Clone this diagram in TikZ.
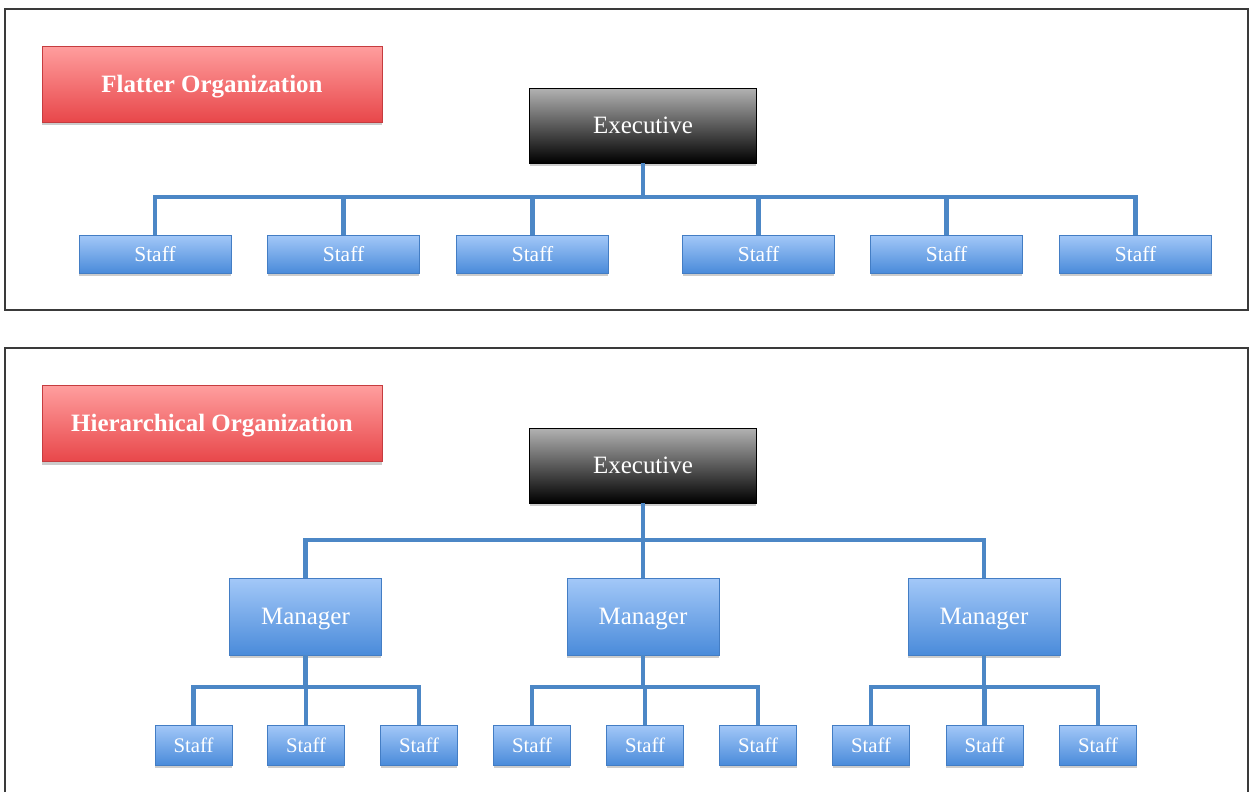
\documentclass[tikz,border=0pt]{standalone}
\usepackage{fontspec}
\setmainfont{Liberation Serif}
\usepackage{tikz}
\usetikzlibrary{shadows}
\definecolor{framegray}{HTML}{3A3A3A}
\definecolor{linkblue}{HTML}{4C87C6}
\definecolor{stafftop}{HTML}{A3C8F8}
\definecolor{staffbot}{HTML}{4A8BDA}
\definecolor{titletop}{HTML}{FF9E9E}
\definecolor{titlebot}{HTML}{E8474A}
\colorlet{execbot}{black}
\colorlet{exectop}{black!30}
\tikzstyle{frame}=[line width=1.3pt,draw=framegray]
\tikzstyle{boxshadow}=[drop shadow={shadow xshift=0pt,shadow yshift=-1.8pt,opacity=.4}]
\tikzstyle{orgbox}=[inner sep=0pt,text=white,text height=2ex,text depth=0pt,boxshadow]
\tikzstyle{titlebox}=[orgbox,draw=titlebot!85!black,line width=.4pt,top color=titletop,bottom color=titlebot,
  minimum width=6.8cm,minimum height=1.52cm,font=\fontsize{14.2}{16}\selectfont\bfseries]
\tikzstyle{execbox}=[orgbox,draw=black,line width=.5pt,top color=exectop,bottom color=execbot,
  minimum width=4.54cm,minimum height=1.5cm,font=\fontsize{14.2}{16}\selectfont]
\tikzstyle{managerbox}=[orgbox,draw=staffbot!90!black,line width=.4pt,top color=stafftop,bottom color=staffbot,
  minimum width=3.04cm,minimum height=1.54cm,font=\fontsize{14.2}{16}\selectfont]
\tikzstyle{staffbox}=[orgbox,draw=staffbot!90!black,line width=.4pt,top color=stafftop,bottom color=staffbot,
  minimum width=3.04cm,minimum height=0.76cm,text height=1.75ex,font=\fontsize{12.2}{14}\selectfont]
\tikzstyle{smallstaff}=[staffbox,minimum width=1.54cm,minimum height=0.8cm,font=\fontsize{11.8}{14}\selectfont]
\tikzstyle{link}=[draw=linkblue,line width=2.3pt]

\begin{document}
\begin{tikzpicture}[x=0.02cm,y=-0.02cm]
	\useasboundingbox (0,0) rectangle (1254,792);
	% flatter organization
	\draw[frame] (5,9) rectangle (1248,310);
	\node[titlebox] (flattitle) at (212,84) {Flatter Organization};
	\node[execbox] (exec1) at (643,125.5) {Executive};
	\coordinate (bar1) at (643,197);
	\node[staffbox] (fs1) at (155,254) {Staff};
	\node[staffbox] (fs2) at (343.5,254) {Staff};
	\node[staffbox] (fs3) at (532.5,254) {Staff};
	\node[staffbox] (fs4) at (758.5,254) {Staff};
	\node[staffbox] (fs5) at (946.5,254) {Staff};
	\node[staffbox] (fs6) at (1135.5,254) {Staff};
	\foreach \i in {1,...,6}
		\draw[link] (exec1.south) -- (bar1) -| (fs\i.north);
	% hierarchical organization
	\draw[frame] (5,792) -- (5,348) -- (1248,348) -- (1248,792);
	\node[titlebox] (hiertitle) at (212,423.5) {Hierarchical Organization};
	\node[execbox] (exec2) at (643,465.5) {Executive};
	\coordinate (bar2) at (643,540);
	\node[managerbox] (m1) at (305.5,616.5) {Manager};
	\node[managerbox] (m2) at (643,616.5) {Manager};
	\node[managerbox] (m3) at (984,616.5) {Manager};
	\foreach \i in {1,2,3}
		\draw[link] (exec2.south) -- (bar2) -| (m\i.north);
	\coordinate (sub1) at (305.5,687);
	\coordinate (sub2) at (643,687);
	\coordinate (sub3) at (984,687);
	\node[smallstaff] (s1-1) at (193.5,745) {Staff};
	\node[smallstaff] (s1-2) at (306,745) {Staff};
	\node[smallstaff] (s1-3) at (419,745) {Staff};
	\node[smallstaff] (s2-1) at (532,745) {Staff};
	\node[smallstaff] (s2-2) at (645,745) {Staff};
	\node[smallstaff] (s2-3) at (758,745) {Staff};
	\node[smallstaff] (s3-1) at (871,745) {Staff};
	\node[smallstaff] (s3-2) at (984.5,745) {Staff};
	\node[smallstaff] (s3-3) at (1098,745) {Staff};
	\foreach \m in {1,2,3}
		\foreach \s in {1,2,3}
			\draw[link] (m\m.south) -- (sub\m) -| (s\m-\s.north);
\end{tikzpicture}
\end{document}
